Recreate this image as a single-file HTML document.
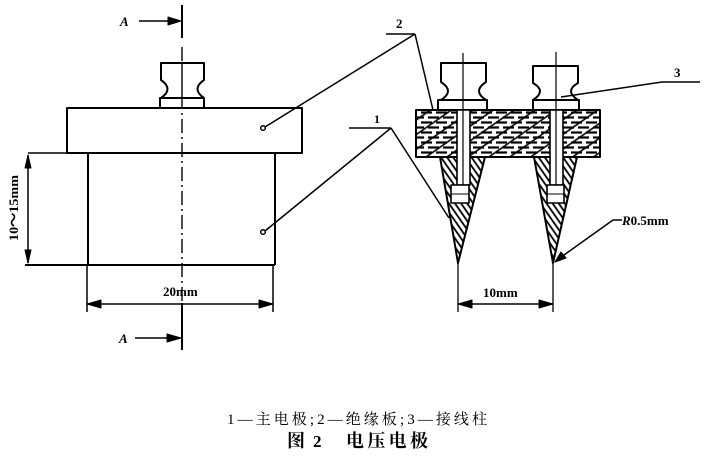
<!DOCTYPE html>
<html><head><meta charset="utf-8"><style>
html,body{margin:0;padding:0;background:#fff;}
svg{display:block;}
</style></head><body>
<svg width="709" height="462" viewBox="0 0 709 462" xmlns="http://www.w3.org/2000/svg">
<defs>
<pattern id="hz" width="15" height="10" patternUnits="userSpaceOnUse">
<line x1="1" y1="2.5" x2="12" y2="2.5" stroke="#000" stroke-width="2.2"/>
<line x1="8" y1="7.5" x2="15" y2="7.5" stroke="#000" stroke-width="2.2"/>
<line x1="0" y1="7.5" x2="4" y2="7.5" stroke="#000" stroke-width="2.2"/>
</pattern>
<pattern id="dg" width="12" height="14" patternUnits="userSpaceOnUse" patternTransform="rotate(55)">
<line x1="1" y1="0" x2="1" y2="14" stroke="#000" stroke-width="1.6"/>
</pattern>
<pattern id="ch" width="5" height="5" patternUnits="userSpaceOnUse" patternTransform="rotate(-35)">
<line x1="1" y1="0" x2="1" y2="5" stroke="#000" stroke-width="1.8"/>
</pattern>
</defs>
<g fill="none" stroke="#000" stroke-width="2" stroke-linejoin="round">
<!-- LEFT VIEW -->
<line x1="182" y1="5" x2="182" y2="38"/>
<line x1="182" y1="47" x2="182" y2="302" stroke-width="1.4" stroke-dasharray="14 4 2 4"/>
<line x1="182" y1="303" x2="182" y2="350"/>
<line x1="139" y1="21" x2="172" y2="21" stroke-width="1.5"/>
<path d="M168,17 L181,21 L168,25 Z" fill="#000" stroke-width="1"/>
<line x1="135" y1="338" x2="170" y2="338" stroke-width="1.5"/>
<path d="M167,334 L181,338 L167,342 Z" fill="#000" stroke-width="1"/>
<path d="M161,98 Q174,89 161,80 L161,63 L204,63 L204,80 Q191,89 204,98 Z" fill="#fff"/>
<rect x="160" y="98" width="44" height="10" fill="#fff"/>
<line x1="182" y1="63" x2="182" y2="108" stroke-width="1.4"/>
<rect x="67" y="108" width="235" height="45"/>
<line x1="88" y1="153" x2="88" y2="265"/>
<line x1="275" y1="153" x2="275" y2="265"/>
<line x1="25" y1="265" x2="275" y2="265"/>
<line x1="28" y1="153" x2="67" y2="153" stroke-width="1.5"/>
<line x1="28" y1="155" x2="28" y2="263" stroke-width="1.5"/>
<path d="M25,168 L28,155 L31,168 Z" fill="#000" stroke-width="1"/>
<path d="M25,250 L28,263 L31,250 Z" fill="#000" stroke-width="1"/>
<line x1="87" y1="265" x2="87" y2="312" stroke-width="1.5"/>
<line x1="273" y1="265" x2="273" y2="312" stroke-width="1.5"/>
<line x1="87" y1="304" x2="273" y2="304" stroke-width="1.5"/>
<path d="M101,300 L87,304 L101,308 Z" fill="#000" stroke-width="1"/>
<path d="M259,300 L273,304 L259,308 Z" fill="#000" stroke-width="1"/>
<circle cx="263" cy="128" r="2.3" stroke-width="1.5"/>
<circle cx="263" cy="232" r="2.3" stroke-width="1.5"/>
<line x1="265" y1="127" x2="415" y2="34" stroke-width="1.5"/>
<line x1="265" y1="231" x2="391" y2="128" stroke-width="1.5"/>
<line x1="386" y1="34" x2="415" y2="34" stroke-width="1.5"/>
<line x1="415" y1="34" x2="433" y2="110" stroke-width="1.5"/>
<line x1="349" y1="128" x2="391" y2="128" stroke-width="1.5"/>
<line x1="391" y1="128" x2="449" y2="218" stroke-width="1.5"/>

<!-- RIGHT VIEW -->
<path d="M441,100 Q455,91 441,82 L441,63 L486,63 L486,82 Q472,91 486,100 Z" fill="#fff"/>
<rect x="438" y="100" width="49" height="10" fill="#fff"/>
<path d="M533,100 Q547,91 533,83 L533,66 L578,66 L578,83 Q564,91 578,100 Z" fill="#fff"/>
<rect x="533" y="100" width="46" height="10" fill="#fff"/>
<rect x="416" y="110" width="184" height="47" fill="url(#hz)" stroke="none"/>
<rect x="416" y="110" width="184" height="47" fill="url(#dg)" stroke="none"/>
<rect x="416" y="110" width="184" height="47"/>
<path d="M440,157 L485,157 L458,263 Z" fill="url(#ch)"/>
<path d="M534,157 L577,157 L553,263 Z" fill="url(#ch)"/>
<rect x="457" y="110" width="13" height="75" fill="#fff" stroke-width="1.6"/>
<rect x="451" y="185" width="18" height="18" fill="#fff" stroke-width="1.6"/>
<line x1="451" y1="194" x2="469" y2="194" stroke-width="1"/>
<rect x="550" y="110" width="13" height="75" fill="#fff" stroke-width="1.6"/>
<rect x="547" y="185" width="17" height="18" fill="#fff" stroke-width="1.6"/>
<line x1="547" y1="194" x2="564" y2="194" stroke-width="1"/>
<line x1="463" y1="53" x2="463" y2="185" stroke-width="1.2"/>
<line x1="556" y1="52" x2="556" y2="185" stroke-width="1.2"/>
<line x1="458" y1="263" x2="458" y2="312" stroke-width="1.3"/>
<line x1="553" y1="263" x2="553" y2="312" stroke-width="1.3"/>
<line x1="458" y1="304" x2="553" y2="304" stroke-width="1.5"/>
<path d="M472,300 L458,304 L472,308 Z" fill="#000" stroke-width="1"/>
<path d="M539,300 L553,304 L539,308 Z" fill="#000" stroke-width="1"/>
<line x1="613" y1="220" x2="622" y2="220" stroke-width="1.5"/>
<line x1="613" y1="220" x2="557" y2="260" stroke-width="1.5"/>
<path d="M555,262 L561,252 L566,258 Z" fill="#000" stroke-width="1"/>
<line x1="662" y1="82" x2="700" y2="82" stroke-width="1.5"/>
<line x1="662" y1="82" x2="561" y2="97" stroke-width="1.5"/>
</g>
<g font-family="Liberation Serif, serif" font-weight="bold" fill="#000">
<text x="120" y="26" font-size="13" font-style="italic">A</text>
<text x="119" y="343" font-size="13" font-style="italic">A</text>
<text x="163" y="296" font-size="13">20mm</text>
<text x="483" y="297" font-size="13">10mm</text>
<text x="622" y="225" font-size="13"><tspan font-style="italic">R</tspan>0.5mm</text>
<text x="396" y="28" font-size="13">2</text>
<text x="374" y="123" font-size="12">1</text>
<text x="674" y="77" font-size="13">3</text>
<text transform="translate(18,241) rotate(-90)" font-size="13" textLength="66" lengthAdjust="spacingAndGlyphs">10～15mm</text>
</g>
<g font-family="Liberation Serif, 'Noto Serif CJK SC', serif" fill="#000">
<text x="227" y="424" font-size="15" textLength="260" lengthAdjust="spacing">1—主电极;2—绝缘板;3—接线柱</text>
<text x="287" y="447" font-size="18" font-weight="bold">图</text>
<text x="313" y="447" font-size="17" font-weight="bold">2</text>
<text x="346" y="447" font-size="18" font-weight="bold" textLength="82" lengthAdjust="spacing">电压电极</text>
</g>
</svg>
</body></html>
